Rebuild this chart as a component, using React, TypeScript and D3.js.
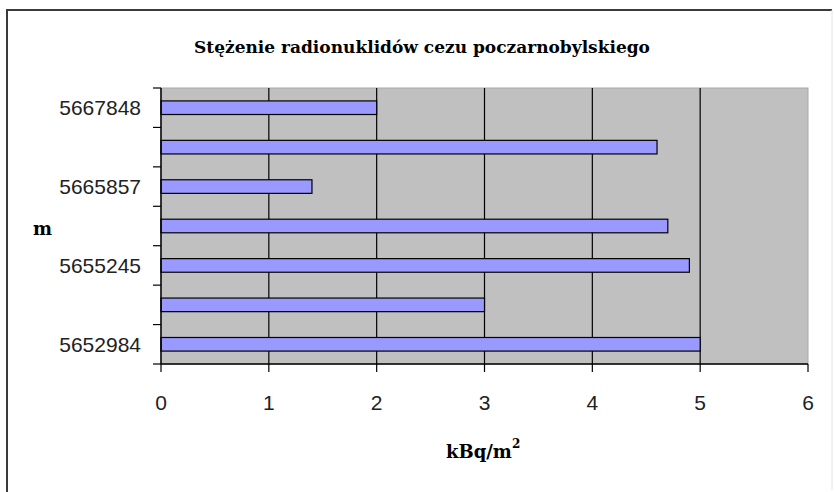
import React, { useEffect, useRef } from 'react';
import * as d3 from 'd3';

// data, bottom to top as in the chart
const categories = ['5652984', '', '5655245', '', '5665857', '', '5667848'];
const values = [5.0, 3.0, 4.9, 4.7, 1.4, 4.6, 2.0];
const xTicks = [0, 1, 2, 3, 4, 5, 6];

const title = 'Stężenie radionuklidów cezu poczarnobylskiego';

const W = 834;
const H = 492;
const plot = { left: 161, right: 808, top: 88, bottom: 364 };

export default function App() {
  const ref = useRef<SVGSVGElement>(null);

  useEffect(() => {
    const svg = d3.select(ref.current);
    svg.selectAll('*').remove();

    // outer frame
    svg.append('rect').attr('width', W).attr('height', H).attr('fill', '#fff');
    svg.append('line').attr('x1', 7).attr('x2', 7).attr('y1', 10).attr('y2', H)
      .attr('stroke', '#3a3a3a').attr('stroke-width', 2);
    svg.append('line').attr('x1', 6).attr('x2', 832).attr('y1', 10).attr('y2', 10)
      .attr('stroke', '#3a3a3a').attr('stroke-width', 2);
    svg.append('line').attr('x1', 832).attr('x2', 832).attr('y1', 10).attr('y2', 490)
      .attr('stroke', '#e4e4e4').attr('stroke-width', 1);

    const x = d3.scaleLinear().domain([0, 6]).range([plot.left, plot.right]);
    const y = d3.scaleBand<number>()
      .domain(d3.range(categories.length))
      .range([plot.bottom, plot.top]);

    // plot area
    svg.append('rect')
      .attr('x', plot.left).attr('y', plot.top)
      .attr('width', plot.right - plot.left).attr('height', plot.bottom - plot.top)
      .attr('fill', '#c0c0c0').attr('stroke', '#a8a8a8').attr('stroke-width', 1);

    // vertical gridlines
    svg.append('g').selectAll('line')
      .data(xTicks.slice(1, -1))
      .join('line')
      .attr('x1', d => x(d)).attr('x2', d => x(d))
      .attr('y1', plot.top).attr('y2', plot.bottom)
      .attr('stroke', '#000').attr('stroke-width', 1.2);

    // bars (gap width ~190%)
    const bw = y.bandwidth();
    const barH = bw / 2.9;
    svg.append('g').selectAll('rect')
      .data(values)
      .join('rect')
      .attr('x', x(0))
      .attr('y', (d, i) => (y(i) as number) + (bw - barH) / 2)
      .attr('width', d => x(d) - x(0))
      .attr('height', barH)
      .attr('fill', '#9999ff')
      .attr('stroke', '#000')
      .attr('stroke-width', 1.2);

    // y axis
    const yAxis = svg.append('g').attr('stroke', '#000');
    yAxis.append('line')
      .attr('x1', plot.left).attr('x2', plot.left)
      .attr('y1', plot.top).attr('y2', plot.bottom).attr('stroke-width', 1.5);
    yAxis.selectAll('line.tick')
      .data(d3.range(categories.length + 1))
      .join('line')
      .attr('class', 'tick')
      .attr('x1', plot.left - 8).attr('x2', plot.left)
      .attr('y1', i => plot.bottom - i * bw).attr('y2', i => plot.bottom - i * bw)
      .attr('stroke-width', 1.2);
    svg.append('g').selectAll('text')
      .data(categories)
      .join('text')
      .attr('x', 141)
      .attr('y', (d, i) => (y(i) as number) + bw / 2)
      .attr('dy', '0.36em')
      .attr('text-anchor', 'end')
      .attr('font-family', 'Liberation Sans, Arial, sans-serif')
      .attr('font-size', 21)
      .attr('fill', '#222')
      .text(d => d);

    // x axis
    const xAxis = svg.append('g').attr('stroke', '#000');
    xAxis.append('line')
      .attr('x1', plot.left).attr('x2', plot.right)
      .attr('y1', plot.bottom).attr('y2', plot.bottom).attr('stroke-width', 1.5);
    xAxis.selectAll('line.tick')
      .data(xTicks)
      .join('line')
      .attr('class', 'tick')
      .attr('x1', d => x(d)).attr('x2', d => x(d))
      .attr('y1', plot.bottom).attr('y2', plot.bottom + 8)
      .attr('stroke-width', 1.2);
    svg.append('g').selectAll('text')
      .data(xTicks)
      .join('text')
      .attr('x', d => x(d))
      .attr('y', 410)
      .attr('text-anchor', 'middle')
      .attr('font-family', 'Liberation Sans, Arial, sans-serif')
      .attr('font-size', 21)
      .attr('fill', '#222')
      .text(d => String(d));

    // titles
    svg.append('text')
      .attr('x', 422).attr('y', 53)
      .attr('text-anchor', 'middle')
      .attr('font-family', 'DejaVu Serif, serif')
      .attr('font-weight', 'bold')
      .attr('font-size', 17)
      .attr('fill', '#000')
      .text(title);

    svg.append('text')
      .attr('x', 33).attr('y', 235)
      .attr('font-family', 'DejaVu Serif, serif')
      .attr('font-weight', 'bold')
      .attr('font-size', 18)
      .attr('fill', '#000')
      .text('m');

    const xt = svg.append('text')
      .attr('x', 446).attr('y', 458)
      .attr('font-family', 'DejaVu Serif, serif')
      .attr('font-weight', 'bold')
      .attr('font-size', 18)
      .attr('fill', '#000');
    xt.append('tspan').text('kBq/m');
    xt.append('tspan').attr('dy', -10).attr('font-size', 12).text('2');
  }, []);

  return (
    <svg
      ref={ref}
      width={W}
      height={H}
      style={{ position: 'absolute', left: 0, top: 0, display: 'block' }}
    />
  );
}
